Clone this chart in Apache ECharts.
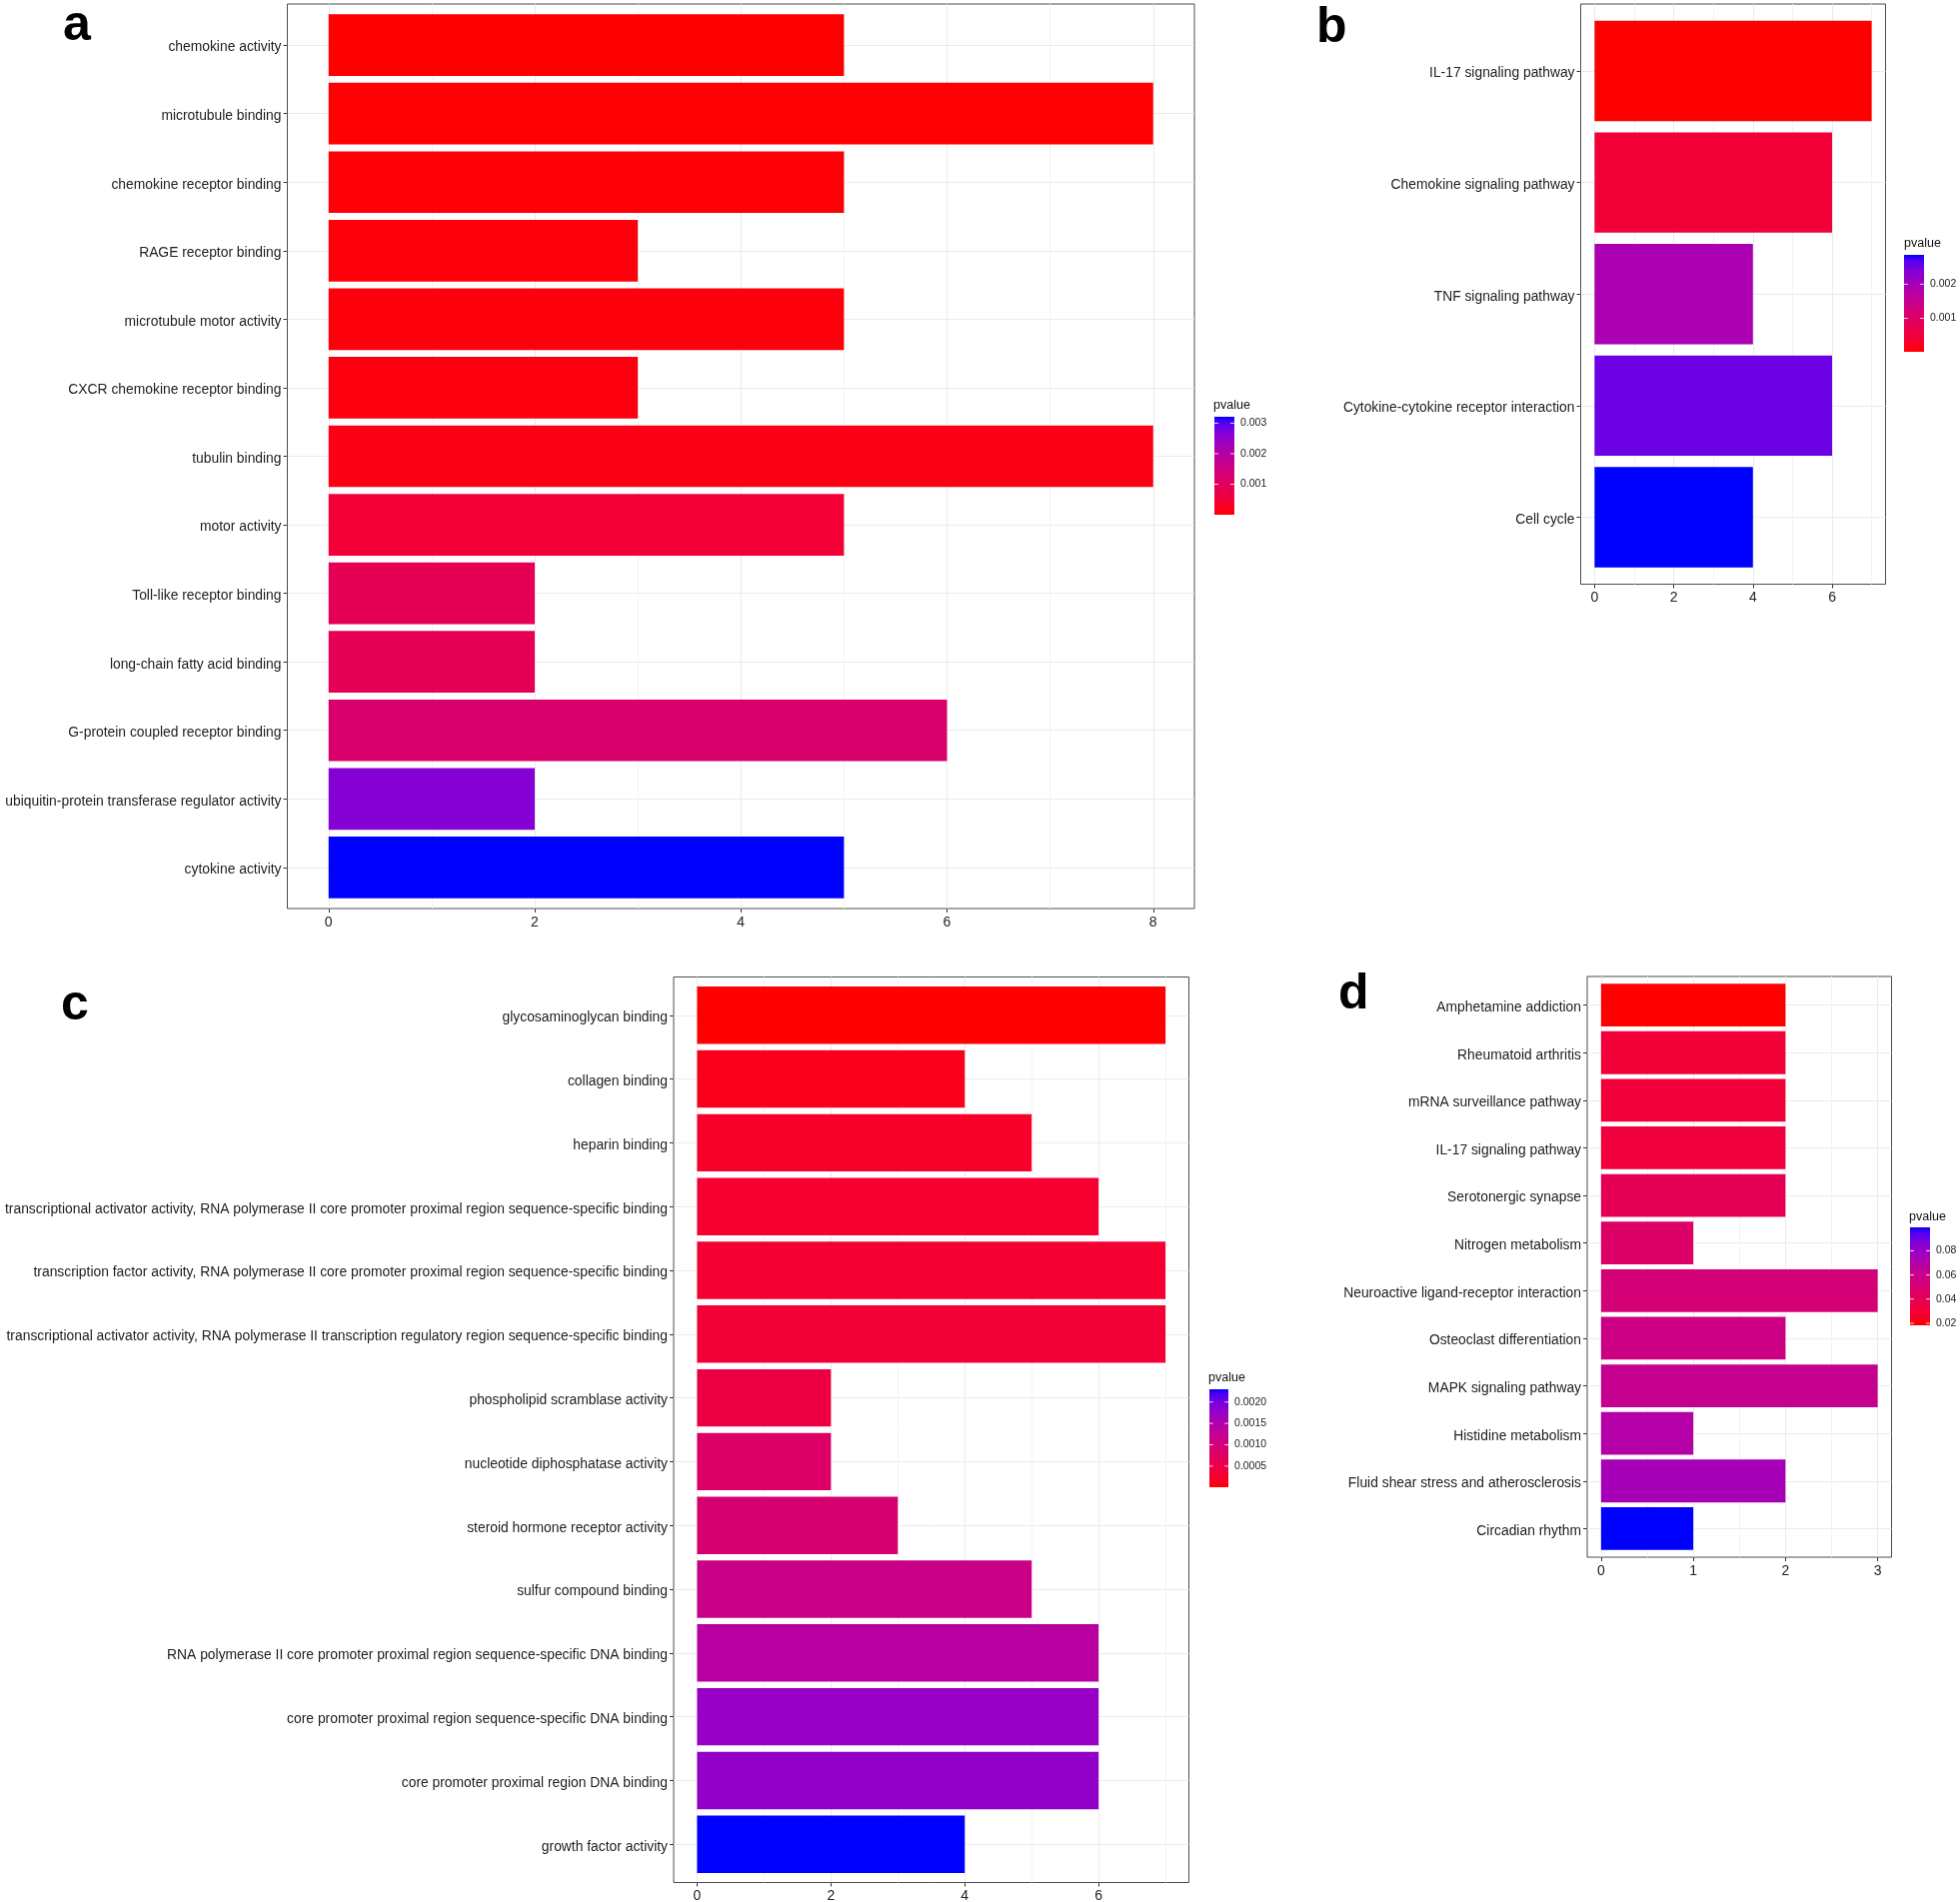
<!DOCTYPE html>
<html><head><meta charset="utf-8">
<script src="https://cdn.jsdelivr.net/npm/echarts@6/dist/echarts.min.js"></script>
<style>html,body{margin:0;padding:0;background:#fff}#c{width:1961px;height:1903px}</style>
</head><body><div id="c"></div>
<script>
// ---------- DATA ----------
const aTerms = ["chemokine activity","microtubule binding","chemokine receptor binding","RAGE receptor binding","microtubule motor activity","CXCR chemokine receptor binding","tubulin binding","motor activity","Toll-like receptor binding","long-chain fatty acid binding","G-protein coupled receptor binding","ubiquitin-protein transferase regulator activity","cytokine activity"];
const aCounts = [5,8,5,3,5,3,8,5,2,2,6,2,5];
const aPvalues = [0.000002,0.000015,0.00003,0.00005,0.00006,0.00008,0.00013,0.00048,0.00087,0.0009,0.0012,0.00265,0.00321];
const aXTicks = [0,2,4,6,8];
const aXMinor = [1,3,5,7];
const aLegendTicks = [0.001,0.002,0.003];

const bTerms = ["IL-17 signaling pathway","Chemokine signaling pathway","TNF signaling pathway","Cytokine-cytokine receptor interaction","Cell cycle"];
const bCounts = [7,6,4,6,4];
const bPvalues = [0.00002,0.00045,0.00195,0.00255,0.00286];
const bXTicks = [0,2,4,6];
const bXMinor = [1,3,5,7];
const bLegendTicks = [0.001,0.002];

const cTerms = ["glycosaminoglycan binding","collagen binding","heparin binding","transcriptional activator activity, RNA polymerase II core promoter proximal region sequence-specific binding","transcription factor activity, RNA polymerase II core promoter proximal region sequence-specific binding","transcriptional activator activity, RNA polymerase II transcription regulatory region sequence-specific binding","phospholipid scramblase activity","nucleotide diphosphatase activity","steroid hormone receptor activity","sulfur compound binding","RNA polymerase II core promoter proximal region sequence-specific DNA binding","core promoter proximal region sequence-specific DNA binding","core promoter proximal region DNA binding","growth factor activity"];
const cCounts = [7,4,5,6,7,7,2,2,3,5,6,6,6,4];
const cPvalues = [0.000005,0.00014,0.00023,0.00028,0.0003,0.00035,0.00046,0.0008,0.00092,0.00115,0.0014,0.00175,0.0018,0.0023];
const cXTicks = [0,2,4,6];
const cXMinor = [1,3,5,7];
const cLegendTicks = [0.0005,0.0010,0.0015,0.0020];

const dTerms = ["Amphetamine addiction","Rheumatoid arthritis","mRNA surveillance pathway","IL-17 signaling pathway","Serotonergic synapse","Nitrogen metabolism","Neuroactive ligand-receptor interaction","Osteoclast differentiation","MAPK signaling pathway","Histidine metabolism","Fluid shear stress and atherosclerosis","Circadian rhythm"];
const dCounts = [2,2,2,2,2,1,3,2,3,1,2,1];
const dPvalues = [0.0183,0.0305,0.0313,0.0321,0.0410,0.0467,0.0524,0.0572,0.0613,0.0694,0.0751,0.0994];
const dXTicks = [0,1,2,3];
const dXMinor = [0.5,1.5,2.5];
const dLegendTicks = [0.02,0.04,0.06,0.08];

// ---------- colour scale (CIELAB interpolation red -> blue, like ggplot) ----------
function s2l(c){c/=255;return c<=0.04045?c/12.92:Math.pow((c+0.055)/1.055,2.4);}
function l2s(c){const v=c<=0.0031308?12.92*c:1.055*Math.pow(Math.max(c,0),1/2.4)-0.055;return Math.round(Math.max(0,Math.min(1,v))*255);}
const Xn=0.95047,Yn=1,Zn=1.08883;
function fl(t){return t>216/24389?Math.cbrt(t):(t*24389/27+16)/116;}
function fi(t){return t*t*t>216/24389?t*t*t:(116*t-16)*27/24389;}
function rgb2lab(r,g,b){const R=s2l(r),G=s2l(g),B=s2l(b);
  const X=0.4124564*R+0.3575761*G+0.1804375*B,Y=0.2126729*R+0.7151522*G+0.0721750*B,Z=0.0193339*R+0.1191920*G+0.9503041*B;
  const fx=fl(X/Xn),fy=fl(Y/Yn),fz=fl(Z/Zn);return [116*fy-16,500*(fx-fy),200*(fy-fz)];}
function lab2rgb(L,a,b){const fy=(L+16)/116,fx=fy+a/500,fz=fy-b/200;const X=Xn*fi(fx),Y=Yn*fi(fy),Z=Zn*fi(fz);
  const R=3.2404542*X-1.5371385*Y-0.4985314*Z,G=-0.9692660*X+1.8760108*Y+0.0415560*Z,B=0.0556434*X-0.2040259*Y+1.0572252*Z;
  return 'rgb('+l2s(R)+','+l2s(G)+','+l2s(B)+')';}
const LOW=rgb2lab(255,0,0), HIGH=rgb2lab(0,0,255);
function rampT(t){t=Math.max(0,Math.min(1,t));return lab2rgb(LOW[0]+(HIGH[0]-LOW[0])*t,LOW[1]+(HIGH[1]-LOW[1])*t,LOW[2]+(HIGH[2]-LOW[2])*t);}

// ---------- layout ----------
const FONT = "'Liberation Sans', Arial, Helvetica, sans-serif";
const panels = [
  {letter:'a',terms:aTerms,counts:aCounts,p:aPvalues,xt:aXTicks,xm:aXMinor,lt:aLegendTicks,dec:3,
   grid:{left:287.5,top:4,width:907.5,height:905},xr:[-0.4,8.4],
   leg:{left:1215,top:417,width:20,height:98},title:{left:1214,top:399},lab:{left:63,top:1.5}},
  {letter:'b',terms:bTerms,counts:bCounts,p:bPvalues,xt:bXTicks,xm:bXMinor,lt:bLegendTicks,dec:3,
   grid:{left:1581.5,top:4,width:305,height:580.5},xr:[-0.35,7.35],
   leg:{left:1905,top:255,width:20,height:97},title:{left:1905,top:237},lab:{left:1317,top:3}},
  {letter:'c',terms:cTerms,counts:cCounts,p:cPvalues,xt:cXTicks,xm:cXMinor,lt:cLegendTicks,dec:4,
   grid:{left:674,top:977.5,width:515.5,height:906},xr:[-0.35,7.35],
   leg:{left:1210,top:1390,width:19,height:98},title:{left:1209,top:1372},lab:{left:61,top:981}},
  {letter:'d',terms:dTerms,counts:dCounts,p:dPvalues,xt:dXTicks,xm:dXMinor,lt:dLegendTicks,dec:2,
   grid:{left:1588,top:977,width:304.5,height:581},xr:[-0.15,3.15],
   leg:{left:1911,top:1228,width:20,height:98},title:{left:1910,top:1211},lab:{left:1339,top:970}}
];

const option = {animation:false, backgroundColor:'#fff', grid:[], xAxis:[], yAxis:[], series:[], title:[]};
panels.forEach((P,k)=>{
  const n=P.terms.length;
  const pmin=Math.min(...P.p), pmax=Math.max(...P.p);
  const col=v=>rampT((v-pmin)/(pmax-pmin));
  const gi=option.grid.length;
  option.grid.push(Object.assign({show:true,borderColor:'#4d4d4d',borderWidth:1,backgroundColor:'#fff',outerBoundsMode:'none',containLabel:false},P.grid));
  const xi=option.xAxis.length;
  option.xAxis.push({type:'value',gridIndex:gi,min:P.xr[0],max:P.xr[1],position:'bottom',
    axisLine:{show:false,onZero:false},
    axisTick:{show:true,customValues:P.xt,length:4,lineStyle:{color:'#333',width:1}},
    axisLabel:{customValues:P.xt,fontSize:14,color:'#222',fontFamily:FONT,margin:7},
    splitLine:{show:true,lineStyle:{color:'#ebebeb',width:1}}});
  option.xAxis.push({type:'value',gridIndex:gi,min:P.xr[0],max:P.xr[1],position:'top',
    axisLine:{show:false,onZero:false},axisTick:{show:false,customValues:P.xm},axisLabel:{show:false,customValues:P.xm},
    splitLine:{show:true,lineStyle:{color:'#f3f3f3',width:1}}});
  const yi=option.yAxis.length;
  const idx=P.terms.map((_,i)=>i);
  option.yAxis.push({type:'value',gridIndex:gi,min:-0.6,max:n-0.4,inverse:true,position:'left',
    axisLine:{show:false,onZero:false},
    axisTick:{show:true,customValues:idx,length:4,lineStyle:{color:'#333',width:1}},
    axisLabel:{customValues:idx,fontSize:13.85,color:'#222',fontFamily:FONT,margin:6,
      formatter:v=>'{t|'+P.terms[Math.round(v)]+'}',
      rich:{t:{fontSize:13.85,color:'#222',fontFamily:FONT,padding:[5,0,0,0]}}},
    splitLine:{show:true,lineStyle:{color:'#ebebeb',width:1}}});
  option.series.push({type:'custom',xAxisIndex:xi,yAxisIndex:yi,clip:false,
    data:P.counts.map((v,i)=>[v,i,P.p[i]]),encode:{x:0,y:1},
    renderItem:(params,api)=>{
      const v=api.value(0),i=api.value(1);
      const a=api.coord([0,i-0.45]), b=api.coord([v,i+0.45]);
      return {type:'rect',shape:{x:a[0],y:Math.min(a[1],b[1]),width:b[0]-a[0],height:Math.abs(b[1]-a[1])},
        style:{fill:col(api.value(2))}};
    }});
  // legend colourbar
  const lg=option.grid.length;
  option.grid.push(Object.assign({show:false,outerBoundsMode:'none',containLabel:false},P.leg));
  const lx=option.xAxis.length;
  option.xAxis.push({type:'value',gridIndex:lg,min:0,max:1,show:false});
  const ly=option.yAxis.length;
  option.yAxis.push({type:'value',gridIndex:lg,min:pmin,max:pmax,position:'right',
    axisLine:{show:false,onZero:false},axisTick:{show:false,customValues:P.lt},splitLine:{show:false},
    axisLabel:{customValues:P.lt,fontSize:10.5,color:'#222',fontFamily:FONT,margin:6,
      formatter:v=>v.toFixed(P.dec)}});
  const stops=[];for(let s=0;s<=20;s++){stops.push({offset:s/20,color:rampT(1-s/20)});}
  option.series.push({type:'custom',xAxisIndex:lx,yAxisIndex:ly,clip:false,silent:true,
    data:[[0,pmin,pmax]],encode:{x:0,y:1},
    renderItem:(params,api)=>{
      const tl=api.coord([0,pmax]), br=api.coord([1,pmin]);
      const w=br[0]-tl[0];
      const ch=[{type:'rect',shape:{x:tl[0],y:tl[1],width:w,height:br[1]-tl[1]},
        style:{fill:new echarts.graphic.LinearGradient(0,0,0,1,stops)}}];
      P.lt.forEach(t=>{const y=api.coord([0,t])[1];
        ch.push({type:'line',shape:{x1:tl[0],y1:y,x2:tl[0]+w/5,y2:y},style:{stroke:'#fff',lineWidth:1,opacity:0.8}});
        ch.push({type:'line',shape:{x1:br[0]-w/5,y1:y,x2:br[0],y2:y},style:{stroke:'#fff',lineWidth:1,opacity:0.8}});});
      return {type:'group',children:ch};
    }});
  option.title.push({text:'pvalue',left:P.title.left,top:P.title.top,padding:0,
    textStyle:{fontSize:12.5,fontWeight:'normal',color:'#111',fontFamily:FONT}});
  option.title.push({text:P.letter,left:P.lab.left,top:P.lab.top,padding:0,
    textStyle:{fontSize:50,fontWeight:'bold',color:'#000',fontFamily:FONT}});
});
const chart=echarts.init(document.getElementById('c'),null,{renderer:'canvas'});
chart.setOption(option);
</script></body></html>
